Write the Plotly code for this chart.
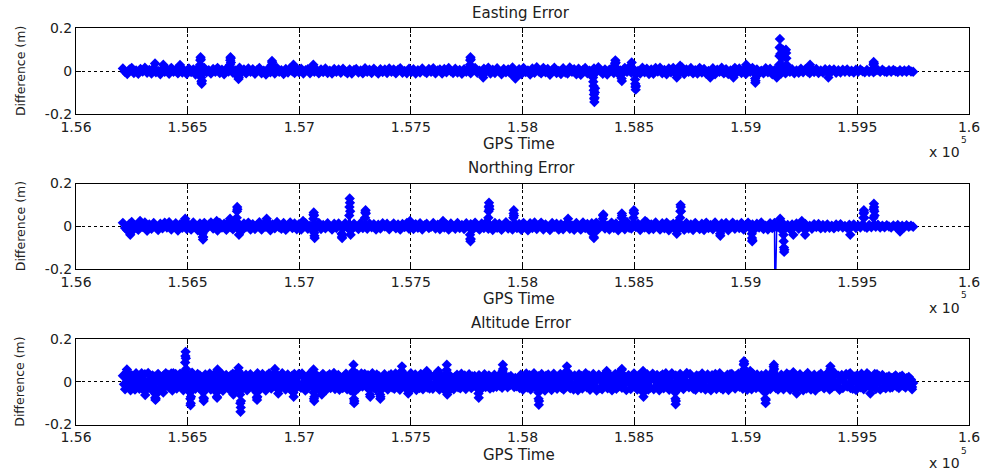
import numpy as np
import plotly.graph_objects as go

# GPS time span covered by the logged solution (seconds)
T_START, T_END = 156210, 159750

# Axis ticks
x_tickvals = [156000, 156500, 157000, 157500, 158000, 158500, 159000, 159500, 160000]
x_ticktext = ["1.56", "1.565", "1.57", "1.575", "1.58", "1.585", "1.59", "1.595", "1.6"]
y_tickvals = [-0.2, 0.0, 0.2]
y_ticktext = ["-0.2", "0", "0.2"]

titles = ["Easting Error", "Northing Error", "Altitude Error"]

# Regular epochs, differences in millimetres
east_mm = [
    12, -5, -14, 7, 15, -9, 3, -13, 10, -2, 16, -8, 5, -12, 14, -6, 1, -15, 11, -4,
    9, -13, 15, -3, 6, -11, 17, -7, 2, -14, 12, -5, 8, -16, 13, -1, -10, 14, -6, 4,
    -12, 10, -4, 15, -9, 6, -15, 11, -2, 13, -8, 3, -14, 16, -5, 7, -11, 12, -3, 9,
    -13, 5, 14, -10, 2, -16, 11, -6, 8, -12, 15, -3, 4, -14, 10, -7, 13, -1, -9, 12,
    -6, 11, -12, 4, 9, -10, 13, -3, 6, -11, 8, -5, 12, -9, 2, -12, 10, -4, 7, -8,
    11, -2, -10, 8, -12, 5, 10, -7, 3, -11, 13, -4, 6, -9, 11, -1, -12, 9, -5, 7,
    -9, 12, -3, 8, -11, 6, 13, -8, 1, -10, 11, -5, 9, -12, 4, -7, 12, -2, -9, 10,
    -4, 13, -11, 3, 8, -12, 10, -6, 14, -1, -9, 11, -7, 5, -13, 9, -3, 12, -10, 6,
    15, -8, 2, -14, 11, -4, 16, -12, 6, -9, 13, -2, -15, 10, -6, 8, -11, 17, -3, -13,
    9, -15, 14, -5, 3, -16, 12, -8, 18, -2, -11, 15, -6, 10, -17, 4, 16, -9, 1, -14,
    13, -7, -12, 17, -3, 9, -15, 11, -18, 5, 14, -10, 2, -16, 12, -6, 18, -1, -13, 8,
    -16, 6, 12, -9, 17, -13, 3, -11, 15, -4, 19, -8, 10, -15, 1, -12, 16, -6, 11, -14,
    7, -13, 14, -2, 16, -10, 5, -15, 12, -6, 15, -11, 2, -9, 17, -14, 8, -3, 14, -11,
    4, -12, 15, -7, 10, -13, 1, -10, 13, -15, 6, -4, 16, -11, 9, -14, 3, -12, 15, -6,
    12, -9, 5, -14, 11, -3, 15, -11, 8, -12, 2, -10, 13, -6, 11, -15, 4, -8, 14, -12,
    7, -11, 12, -4, 9, -10, 3, -8, 11, -6, 9, -2, -10, 8, -5, 10, -9, 3, -7, 9,
    -6, 8, -2, 7, -8, 4, -7, 6, -3, 8, -5, 2, -7, 6, -4, 7, -1, -6, 5, -5,
    4, -6, 2, 5, -4, 6, -2, -5, 4, -3, 5, -1, -5, 4, -4, 3, -3, 5, -2, -3,
]

north_mm = [
    16, -8, -19, 11, 20, -14, 4, -17, 13, -3, 18, -21, 9, -12, 15, -5, -18, 12, -10, 17,
    -6, 19, -15, 2, 14, -20, 10, -7, 21, -13, 5, -16, 18, -2, -19, 13, -9, 16, -12, 7,
    18, -11, 3, -20, 15, -6, 12, -17, 19, -4, -14, 16, -9, 8, -21, 13, -2, 17, -15, 10,
    -13, 6, 19, -16, 11, -3, 17, -19, 8, -10, 20, -5, -12, 15, -17, 4, 18, -9, 13, -14,
    10, -16, 5, 14, -12, 2, -15, 11, -7, 16, -13, 6, -10, 14, -4, -15, 12, -8, 13, -3,
    -11, 14, -6, 9, -14, 12, -2, -13, 15, -9, 4, -12, 13, -5, 10, -15, 7, -11, 14, -1,
    12, -14, 3, 13, -10, 8, -16, 11, -4, 15, -12, 1, -13, 10, -7, 14, -15, 5, 12, -9,
    -3, 15, -11, 7, -14, 12, -6, 9, -16, 13, -2, -12, 15, -8, 6, -13, 14, -4, 10, -15,
    17, -5, -16, 13, -9, 18, -12, 3, -18, 15, -7, 12, -17, 6, 19, -11, 2, -15, 14, -8,
    11, -17, 16, -4, -19, 14, -8, 18, -13, 5, 17, -15, 9, -6, -18, 15, -3, 12, -16, 10,
    -14, 8, 19, -12, 4, -17, 15, -2, -16, 18, -9, 11, -20, 14, -5, 17, -13, 7, 16, -11,
    3, -15, 17, -8, 13, -19, 6, 16, -14, 20, -7, -11, 15, -4, 12, -18, 10, -6, 19, -16,
    9, -13, 18, -2, -16, 14, -10, 17, -19, 5, 12, -15, 19, -7, 3, -17, 15, -11, 8, -18,
    16, -4, -13, 12, -18, 17, -9, 6, -14, 18, -1, -16, 13, -10, 15, -19, 4, 17, -12, 9,
    -8, 15, -16, 3, 17, -11, 8, -14, 12, -6, 18, -13, 2, -15, 14, -9, 16, -5, 11, -15,
    12, -10, 6, -14, 9, -3, 13, -12, 5, -9, 11, -7, 2, -12, 10, -4, 11, -10, 6, -8,
    9, -7, 3, -10, 8, -4, 10, -6, 1, -9, 7, -3, 9, -8, 4, -6, 8, -2, -7, 6,
    -5, 6, -2, 7, -6, 3, -5, 5, -1, -6, 4, -3, 6, -4, 2, -5, 5, -3, 3, -2,
]

alt_mm = [
    28, -12, -35, 18, 38, -24, 6, -40, 31, -9, 22, -37, 40, -16, 2, -33, 26, -28, 14, -39,
    35, -5, -27, 41, -20, 10, -38, 30, -14, 24, -42, 8, 37, -31, 17, -3, -36, 29, -22, 40,
    -10, 33, -26, 4, 39, -41, 21, -15, 36, -32, 12, -6, 38, -25, 27, -40, 9, 31, -18, -35,
    24, -8, -37, 42, -22, 15, -33, 6, 36, -28, 30, -13, -39, 19, -4, 34, -30, 25, -17, 39,
    -36, 11, 28, -24, 40, -7, -31, 35, -19, 3, 37, -42, 16, -26, 32, -11, 20, -38, 29, -2,
    38, -29, 13, -34, 22, -16, 41, -5, -37, 27, -23, 8, 33, -40, 18, -12, 35, -21, 6, -33,
    19, -39, 31, -9, 25, -35, 4, 36, -27, 14, -41, 29, -17, 39, -6, -32, 23, -14, 37, -25,
    -3, 30, -38, 16, -21, 40, -12, 26, -36, 9, 34, -24, 2, -40, 28, -8, 37, -33, 15, -19,
    36, -15, -28, 39, -6, 22, -41, 13, -31, 33, -18, 5, 40, -25, 17, -36, 30, -9, 24, -37,
    11, -33, 37, -20, 8, -39, 27, -4, 35, -29, 19, -13, 41, -34, 3, -23, 32, -38, 21, -7,
    -30, 25, -11, 38, -35, 14, -2, -40, 33, -17, 29, -26, 7, 36, -31, 20, -9, 39, -22, 12,
    37, -19, -4, 31, -37, 23, -13, 40, -28, 6, -35, 34, -16, 26, -3, -39, 18, -24, 35, -10,
    21, -36, 29, -7, 35, -27, 10, -33, 39, -15, -2, 27, -38, 16, -21, 37, -12, 30, -34, 5,
    -25, 8, 40, -31, 19, -11, 34, -39, 3, 24, -29, 36, -5, -35, 22, -17, 38, -27, 13, -32,
    30, -14, -33, 26, -6, 38, -24, 15, -37, 31, -9, 20, -35, 4, 36, -28, 11, -40, 27, -18,
    9, -35, 22, -3, 33, -26, 17, -31, 38, -13, -7, 29, -34, 12, -20, 35, -5, -30, 25, -15,
    27, -22, 6, -33, 31, -11, 18, -29, 4, 35, -25, 13, -8, 30, -32, 20, -3, -27, 33, -16,
    -24, 15, 30, -19, 7, -28, 23, -12, 29, -6, -26, 21, -17, 27, -9, 14, -25, 18, -21, -8,
    14, -29, 33, -4, -38, 22, -15, 39, -27, 8, 31, -36, 19, -11, 40, -23, 5, -34, 26, -18,
    -7, 36, -30, 12, -41, 28, -2, 34, -25, 17, -39, 9, 38, -20, 3, -33, 24, -13, 37, -28,
    20, -37, 7, 33, -16, -2, 39, -31, 25, -10, -36, 30, -21, 15, -40, 35, -6, 27, -32, 11,
    -19, 40, -26, 3, 30, -38, 16, -9, 36, -24, 21, -41, 10, 33, -29, 6, -35, 28, -14, 38,
    4, -31, 35, -17, 24, -40, 12, -5, 37, -33, 18, -22, 41, -11, -28, 32, -3, 23, -39, 16,
    31, -8, -34, 27, -20, 39, -13, 6, -36, 29, -25, 14, -4, 38, -30, 21, -17, 35, -37, 2,
    -27, 19, 38, -35, 10, -23, 32, -1, -40, 26, -15, 34, -31, 7, 40, -21, 13, -38, 30, -9,
    33, -20, -6, 29, -39, 17, -28, 37, -11, 4, -34, 25, -19, 41, -7, -26, 36, -16, 22, -33,
    12, -38, 30, -14, 26, -3, -31, 39, -22, 18, -37, 8, 34, -27, 15, -40, 31, -5, -18, 36,
    -34, 23, -9, 40, -29, 11, -36, 20, 2, -25, 33, -39, 16, -12, 37, -21, 6, -32, 28, -15,
    38, -24, 17, -5, -33, 35, -18, 9, -38, 30, -8, 24, -35, 39, -13, 1, -29, 34, -22, 19,
    -12, 31, -40, 22, -16, 36, -27, 4, 28, -34, 13, -20, 40, -6, -30, 25, -37, 15, -9, 33,
    26, -35, 10, -24, 39, -15, 32, -38, 7, 21, -28, 37, -3, -33, 18, -11, 35, -26, 12, -40,
    -2, 29, -32, 41, -19, 8, -37, 24, -14, 33, -41, 16, -6, 30, -24, 38, -17, 3, -31, 27,
    35, -13, 23, -36, 5, -27, 34, -20, 39, -9, -16, 28, -38, 11, 32, -30, 19, -4, 36, -23,
    -17, 37, -29, 14, -33, 2, 25, -39, 31, -12, 20, -26, 38, -7, -35, 16, -21, 40, -10, 29,
    22, -30, 8, -19, 36, -34, 15, -3, 27, -37, 11, 32, -24, 4, -31, 21, -14, 26, -28, 18,
    -26, 20, -12, 30, -22, 9, -29, 24, -5, 28, -19, 13, -27, 17, -8, 23, -20, 10, -24, -6,
]

# Outlier bursts: start epoch and consecutive 1 s samples (mm)
east_evt_t = [156354, 156391, 156466, 156556, 156690, 156727, 156877, 156974, 157063,
              157765, 157824, 157967, 158316, 158415, 158444, 158489, 158504, 158691,
              158706, 158841, 158945, 159002, 159042, 159139, 159150, 159165, 159180,
              159288, 159370, 159572]
east_evt_mm = [[35], [30], [28], [30, 50, 65, 55, 20, -30, -50, -60, -45],
               [30, 50, 65, 60, 40], [-25, -37, -30], [30, 47, 40], [30], [30],
               [30, 50, 65, 55], [-30], [-20, -35, -30],
               [-30, -50, -70, -90, -110, -130, -145, -125, -100, -80],
               [35, 50, 40], [-35, -47], [40], [-40, -60, -75, -87, -70], [-30],
               [25], [-30], [-30], [30], [-35, -55, -45], [-30],
               [30, 70, 110, 150, 110, 80], [90, 100, 95], [100, 85, 60, 30],
               [30], [-30], [30, 42, 35]]

north_evt_t = [156242, 156287, 156488, 156567, 156630, 156690, 156720, 156730, 156854,
               157017, 157063, 157190, 157224, 157295, 157496, 157644, 157765, 157847,
               157959, 158204, 158318, 158360, 158444, 158497, 158549, 158691, 158706,
               158885, 159027, 159131, 159154, 159169, 159213, 159251, 159266, 159468,
               159527, 159572, 159691]
north_evt_mm = [[-30, -40], [25], [25, 35], [-35, -50, -62, -50], [25], [35],
                [40, 70, 90, 80], [-40], [35], [25], [35, 55, 64, 50, -30, -45, -55],
                [-35, -50, -55, -40], [50, 90, 130, 110, 70, -20, -40], [40, 65, 75, 60],
                [25], [25], [-40, -60, -70, -60], [40, 70, 90, 110, 95, 80],
                [40, 60, 75, 50], [35], [-35, -50, -55], [35, 50, 55], [40, 60, 50],
                [40, 65, 75, 60], [25], [-35], [40, 70, 100, 90, 70], [-35, -45],
                [-35, -55, -70, -65], [-400], [35], [-40, -70, -100, -120, -110],
                [-40], [25], [-40], [-40], [40, 60, 75, 65, 40],
                [40, 80, 105, 90, 70, 50], [-25]]

alt_evt_t = [156227, 156294, 156309, 156354, 156391, 156436, 156488, 156511, 156570,
             156630, 156705, 156727, 156735, 156809, 156891, 156906, 156974, 157063,
             157101, 157242, 157317, 157362, 157459, 157488, 157571, 157623, 157660,
             157803, 157911, 158071, 158198, 158377, 158444, 158540, 158669, 158684,
             158930, 158990, 159020, 159087, 159124, 159213, 159228, 159378, 159468,
             159558, 159588, 159745]
alt_evt_mm = [[45, 57], [40], [-45, -62], [-50, -75, -85, -80, -60], [-50], [40],
              [50, 90, 120, 140, 110, 60], [-50, -80, -110, -100, -70],
              [-50, -75, -90, -80], [-50, -70, -75, 40, 57], [-60], [50, 65],
              [-60, -100, -140, -120, -90], [-50, -75, -85, -70, 40], [60], [-55],
              [-50, -70], [45, 57, -50, -80, -90, -70], [-60],
              [50, 80, -50, -80, -100, -90], [-60, -70], [-60, -80, -70], [50, 72],
              [-55], [50], [50], [55, 80, -50, -60], [-55, -75], [50, 80, 60],
              [-50, -80, -108, -90], [50, 72], [50], [55, 60], [50, -50, -70], [40],
              [-50, -80, -105, -90], [35], [50, 80, 96, 85, 60], [50],
              [-50, -80, -100, -85], [50, 70, 80, 60], [45], [-55], [50, 72, 60, 45],
              [40], [-55], [35], [-35]]


def build_series(base_mm, evt_t, evt_mm):
    """Merge regular epochs with outlier bursts, sorted by time, in metres."""
    t_parts = [np.linspace(T_START, T_END, len(base_mm))]
    v_parts = [np.asarray(base_mm, dtype=float)]
    for t0, vals in zip(evt_t, evt_mm):
        t_parts.append(t0 + np.arange(len(vals), dtype=float))
        v_parts.append(np.asarray(vals, dtype=float))
    t = np.concatenate(t_parts)
    v = np.concatenate(v_parts)
    order = np.argsort(t, kind="stable")
    return t[order], v[order] / 1000.0


series = [
    build_series(east_mm, east_evt_t, east_evt_mm),
    build_series(north_mm, north_evt_t, north_evt_mm),
    build_series(alt_mm, alt_evt_t, alt_evt_mm),
]

W, H = 982, 471
AX_L, AX_R = 76, 969
panel_tops = [28.3, 183.5, 339.0]
PANEL_H = 85.5
TEXT = "#202020"
FONT = "DejaVu Sans"


def py(y_px):
    return 1 - y_px / H


def px(x_px):
    return x_px / W


fig = go.Figure()
annotations = []

for i, (t, v) in enumerate(series):
    n = "" if i == 0 else str(i + 1)
    top = panel_tops[i]
    bot = top + PANEL_H
    fig.add_trace(go.Scatter(
        x=t, y=v, mode="lines+markers", xaxis="x" + n, yaxis="y" + n,
        line=dict(color="#0000FF", width=1.5),
        marker=dict(symbol="diamond", size=8, color="#0000FF",
                    line=dict(width=0)),
        showlegend=False, hoverinfo="skip",
    ))
    axis_common = dict(
        showline=True, linecolor="black", linewidth=1, mirror="ticks",
        ticks="inside", ticklen=5, tickwidth=1, tickcolor="black",
        showgrid=True, gridcolor="black", gridwidth=1, griddash="dot",
        zeroline=False, automargin=False,
        tickfont=dict(family=FONT, size=14, color=TEXT),
    )
    fig.update_layout(**{
        "xaxis" + n: dict(
            domain=[px(AX_L), px(AX_R)], anchor="y" + n,
            range=[156000, 160000], tickvals=x_tickvals, ticktext=x_ticktext,
            **axis_common,
        ),
        "yaxis" + n: dict(
            domain=[py(bot), py(top)], anchor="x" + n,
            range=[-0.2, 0.2], tickvals=y_tickvals, ticktext=y_ticktext,
            **axis_common,
        ),
    })
    # title
    annotations.append(dict(
        text=titles[i], x=px(521), y=py(top - 15.6), xref="paper", yref="paper",
        xanchor="center", yanchor="middle", showarrow=False,
        font=dict(family=FONT, size=15, color=TEXT)))
    # x label
    annotations.append(dict(
        text="GPS Time", x=px(519), y=py(top + 115.7), xref="paper", yref="paper",
        xanchor="center", yanchor="middle", showarrow=False,
        font=dict(family=FONT, size=15, color=TEXT)))
    # y label
    annotations.append(dict(
        text="Difference (m)", x=px(20), y=py(top + PANEL_H / 2), xref="paper",
        yref="paper", xanchor="center", yanchor="middle", textangle=-90,
        showarrow=False, font=dict(family=FONT, size=12.5, color=TEXT)))
    # axis exponent
    annotations.append(dict(
        text="x 10", x=px(927), y=py(top + 124), xref="paper", yref="paper",
        xanchor="left", yanchor="middle", showarrow=False,
        font=dict(family=FONT, size=14, color=TEXT)))
    annotations.append(dict(
        text="5", x=px(963.5), y=py(top + 111.5), xref="paper", yref="paper",
        xanchor="center", yanchor="middle", showarrow=False,
        font=dict(family=FONT, size=9, color=TEXT)))

fig.update_layout(
    width=W, height=H, margin=dict(l=0, r=0, t=0, b=0),
    paper_bgcolor="white", plot_bgcolor="white",
    annotations=annotations,
)

fig.write_html("out.html")
